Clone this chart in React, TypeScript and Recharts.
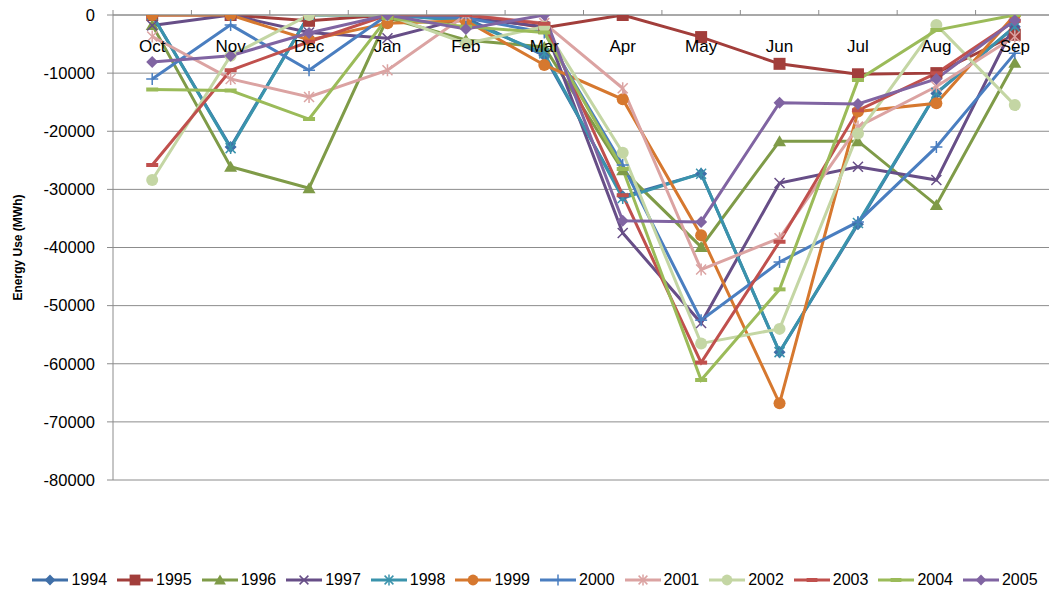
import React from 'react';
import { LineChart, Line, XAxis, YAxis, CartesianGrid, Legend } from 'recharts';

const months = ['Oct', 'Nov', 'Dec', 'Jan', 'Feb', 'Mar', 'Apr', 'May', 'Jun', 'Jul', 'Aug', 'Sep'];
const years = ['1994', '1995', '1996', '1997', '1998', '1999', '2000', '2001', '2002', '2003', '2004', '2005'];

const v1994 = [0, -22700, 0, 0, -500, -7000, -31200, -27300, -58000, -36000, -13500, -2000];
const v1995 = [0, 0, -1000, 0, 0, -2200, 0, -3800, -8400, -10200, -10000, -3400];
const v1996 = [-1700, -26100, -29800, -500, -4300, -5500, -26700, -39900, -21700, -21700, -32700, -8200];
const v1997 = [-1800, 0, -3000, -4000, -500, -2000, -37500, -53000, -28900, -26100, -28400, -1500];
const v1998 = [0, -22900, 0, 0, -1000, -6600, -31500, -27300, -58000, -35800, -13400, -2000];
const v1999 = [0, 0, -4300, -1400, -1000, -8600, -14500, -37900, -66800, -16600, -15200, 0];
const v2000 = [-11000, -1700, -9500, 0, -500, -3000, -25800, -52500, -42500, -35600, -22700, -6600];
const v2001 = [-3700, -11000, -14100, -9500, 0, -1400, -12600, -43800, -38400, -19200, -12300, -3700];
const v2002 = [-28400, -7000, 0, 0, -4900, -2000, -23700, -56500, -54000, -20400, -1700, -15500];
const v2003 = [-25800, -9500, -4600, 0, 0, -1500, -31000, -59800, -39000, -16400, -10000, -1000];
const v2004 = [-12800, -13000, -17900, -500, -2000, -3000, -26500, -62800, -47200, -11200, -2600, 0];
const v2005 = [-8100, -7000, -3100, 0, -2400, 0, -35400, -35600, -15100, -15300, -11000, -900];

const yTicks = [0, -10000, -20000, -30000, -40000, -50000, -60000, -70000, -80000];

const values: Record<string, number[]> = {
  '1994': v1994, '1995': v1995, '1996': v1996, '1997': v1997, '1998': v1998, '1999': v1999,
  '2000': v2000, '2001': v2001, '2002': v2002, '2003': v2003, '2004': v2004, '2005': v2005,
};

const COLORS: Record<string, string> = {
  '1994': '#3F6FA8', '1995': '#A23E3B', '1996': '#7F9B48', '1997': '#674E87',
  '1998': '#3A93AC', '1999': '#D6782F', '2000': '#4A7EC0', '2001': '#DBA3A2',
  '2002': '#C4D6A4', '2003': '#C0504D', '2004': '#9BBB59', '2005': '#8064A2',
};

const MARKERS: Record<string, string> = {
  '1994': 'diamond', '1995': 'square', '1996': 'triangle', '1997': 'x',
  '1998': 'star', '1999': 'circle', '2000': 'plus', '2001': 'star',
  '2002': 'circle', '2003': 'dash', '2004': 'dash', '2005': 'diamond',
};

const data = months.map((m, i) => {
  const row: Record<string, string | number> = { month: m };
  years.forEach((y) => { row[y] = values[y][i]; });
  return row;
});

const FONT = '"Liberation Sans", Arial, sans-serif';
const W = 1057;
const H = 593;
const MARGIN = { top: 14, right: 3, left: 0, bottom: 95 };
const X_H = 1;
const Y_W = 113;
const STEP = (W - Y_W - MARGIN.left - MARGIN.right) / months.length;
const AXIS = '#8C8C8C';

function Marker({ shape, cx, cy, color, s = 1 }: { shape: string; cx: number; cy: number; color: string; s?: number }) {
  if (cx == null || cy == null) return null;
  const r = 6 * s;
  switch (shape) {
    case 'diamond':
      return <path d={`M${cx},${cy - r}L${cx + r},${cy}L${cx},${cy + r}L${cx - r},${cy}Z`} fill={color} />;
    case 'square':
      return <rect x={cx - r} y={cy - r} width={2 * r} height={2 * r} fill={color} />;
    case 'triangle':
      return <path d={`M${cx},${cy - r}L${cx + r + 0.5},${cy + r - 1}L${cx - r - 0.5},${cy + r - 1}Z`} fill={color} />;
    case 'circle':
      return <circle cx={cx} cy={cy} r={r} fill={color} />;
    case 'x':
      return (
        <g stroke={color} strokeWidth={1.5}>
          <line x1={cx - r + 1} y1={cy - r + 1} x2={cx + r - 1} y2={cy + r - 1} />
          <line x1={cx - r + 1} y1={cy + r - 1} x2={cx + r - 1} y2={cy - r + 1} />
        </g>
      );
    case 'star':
      return (
        <g stroke={color} strokeWidth={1.5}>
          <line x1={cx - r + 1} y1={cy - r + 1} x2={cx + r - 1} y2={cy + r - 1} />
          <line x1={cx - r + 1} y1={cy + r - 1} x2={cx + r - 1} y2={cy - r + 1} />
          <line x1={cx} y1={cy - r} x2={cx} y2={cy + r} />
        </g>
      );
    case 'plus':
      return (
        <g stroke={color} strokeWidth={1.5}>
          <line x1={cx - r} y1={cy} x2={cx + r} y2={cy} />
          <line x1={cx} y1={cy - r} x2={cx} y2={cy + r} />
        </g>
      );
    case 'dash':
      return <line x1={cx - r} y1={cy} x2={cx + r} y2={cy} stroke={color} strokeWidth={4} />;
    default:
      return null;
  }
}

const makeDot = (year: string) => (props: any) => (
  <Marker key={`${year}-${props.index}`} shape={MARKERS[year]} cx={props.cx} cy={props.cy} color={COLORS[year]} />
);

// month labels sit under the zero line; tick marks fall between categories
const MonthTick = (props: any) => {
  const { x, payload, index } = props;
  const axisY = MARGIN.top + X_H;
  return (
    <g>
      <line x1={x - STEP / 2} x2={x - STEP / 2} y1={axisY - 5} y2={axisY} stroke={AXIS} />
      {index === months.length - 1 && (
        <line x1={x + STEP / 2} x2={x + STEP / 2} y1={axisY - 5} y2={axisY} stroke={AXIS} />
      )}
      <text x={x} y={axisY + 37} textAnchor="middle" fontSize={17} fontFamily={FONT} fill="#000">
        {payload.value}
      </text>
    </g>
  );
};

const renderLegend = () => (
  <div style={{ display: 'flex', justifyContent: 'center', gap: 9, paddingLeft: 15, fontFamily: FONT, fontSize: 16, color: '#000' }}>
    {years.map((y) => (
      <div key={y} style={{ display: 'flex', alignItems: 'center' }}>
        <svg width={38} height={14}>
          <line x1={1} x2={37} y1={7} y2={7} stroke={COLORS[y]} strokeWidth={3} />
          <Marker shape={MARKERS[y]} cx={19} cy={7} color={COLORS[y]} s={0.9} />
        </svg>
        <span style={{ marginLeft: 2 }}>{y}</span>
      </div>
    ))}
  </div>
);

export default function App() {
  return (
    <div style={{ width: W, height: H, margin: '-8px 0 0 -8px' }}>
      <LineChart width={W} height={H} data={data} margin={MARGIN}>
        <CartesianGrid vertical={false} stroke={AXIS} strokeWidth={1} />
        <XAxis
          dataKey="month"
          orientation="top"
          height={X_H}
          axisLine={{ stroke: AXIS }}
          tickLine={false}
          tick={(p: any) => <MonthTick {...p} />}
          interval={0}
          padding={{ left: STEP / 2, right: STEP / 2 }}
        />
        <YAxis
          width={Y_W}
          domain={[-80000, 0]}
          ticks={yTicks}
          interval={0}
          allowDataOverflow
          axisLine={{ stroke: AXIS }}
          tickLine={{ stroke: AXIS }}
          tickSize={6}
          tickMargin={12}
          tick={{ fontSize: 16.5, fontFamily: FONT, fill: '#000' }}
          label={{
            value: 'Energy Use (MWh)',
            angle: -90,
            position: 'insideLeft',
            offset: 18,
            style: { textAnchor: 'middle', fontWeight: 'bold', fontSize: 12, fontFamily: FONT, fill: '#000' },
          }}
        />
        <Legend verticalAlign="bottom" content={renderLegend} wrapperStyle={{ bottom: 4 }} />
        {years.map((y) => (
          <Line
            key={y}
            type="linear"
            dataKey={y}
            stroke={COLORS[y]}
            strokeWidth={3}
            dot={makeDot(y)}
            activeDot={false}
            isAnimationActive={false}
          />
        ))}
      </LineChart>
    </div>
  );
}
